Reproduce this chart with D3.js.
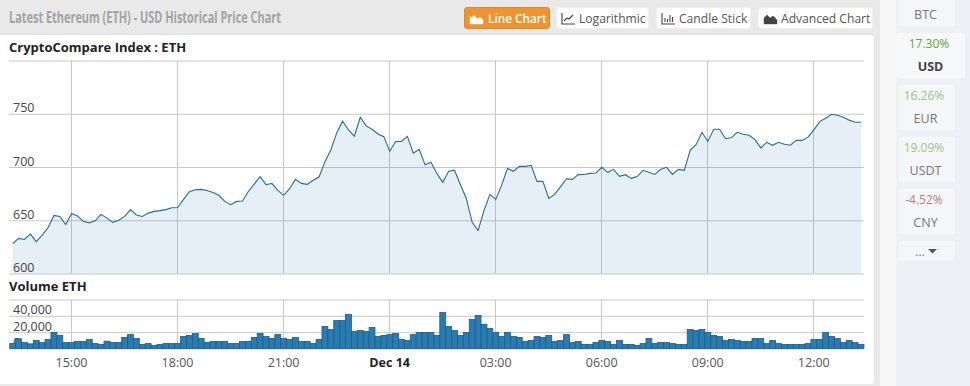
<!DOCTYPE html>
<html>
<head>
<meta charset="utf-8">
<title>ETH USD price chart</title>
<script src="https://cdn.jsdelivr.net/npm/d3@7"></script>
<style>
  html, body { margin: 0; padding: 0; background: #e9e9e9; overflow: hidden; }
  svg { display: block; }
  text { font-family: "Open Sans", sans-serif; }
  .axis .domain { display: none; }
  .axis text { font-size: 12.5px; fill: #555; }
  .axis line { stroke: #c8c8c8; }
</style>
</head>
<body>
<div id="chart"></div>
<script>
// Values, one point every 10 minutes from Dec 13 13:20
const startTime = new Date(2017, 11, 13, 13, 20);
const stepMinutes = 10;

const priceValues = [
  628, 633, 632, 637, 630, 636, 643, 654.5, 653.6, 646,
  656.4, 654, 649, 647.6, 649.5, 655.5, 652, 648, 650, 653.6,
  660, 655, 653.6, 656.7, 658.3, 659, 660, 661.8, 662, 669.6,
  676.8, 678.7, 679, 678, 676, 673.4, 667.7, 664.6, 667.7, 668,
  677, 684, 691, 683.4, 684.6, 678, 673.4, 679.6, 688.4, 684.6,
  683.7, 687.5, 690.6, 705, 716, 732, 743, 734.8, 729, 746.7,
  738.6, 735.4, 731, 728.5, 714.7, 724, 724, 728.8, 712.9, 716.6,
  702, 704.4, 694, 685.6, 696, 697, 683.4, 670.5, 648, 640.4,
  659, 674.3, 669.6, 683, 698.7, 696, 700.6, 700.6, 701.6, 686.5,
  686.5, 670.5, 674.3, 681.5, 689, 688.4, 692.8, 693, 694, 694.4,
  699.7, 695, 697.8, 691.2, 692.8, 689.3, 691, 696.9, 695, 693,
  697.8, 699.7, 693, 697.8, 696.9, 715.7, 721, 732.6, 724, 735.4,
  735.4, 726.6, 727.6, 732.6, 730.7, 729.8, 725.7, 718, 723.2, 720.4,
  723.2, 721.3, 720.4, 725, 725, 728, 734.8, 742.6, 745.8, 749.5,
  748.6, 746.7, 744, 742, 742
];

const volumeValues = [
  6000, 12000, 7300, 5700, 9800, 7300, 11000, 19600, 16000, 7300,
  7300, 8600, 8600, 11000, 6000, 5000, 9000, 7300, 7300, 13500,
  17000, 12200, 5000, 6000, 3700, 5000, 6000, 6000, 6000, 14700,
  16000, 18400, 12200, 7300, 8600, 8600, 8600, 6000, 6000, 8600,
  8600, 13500, 18400, 14700, 12200, 17000, 12200, 11000, 13500, 8600,
  8600, 6000, 11000, 27000, 23300, 34300, 34300, 41600, 20800, 22000,
  20800, 25700, 14700, 16000, 17000, 18400, 11000, 9800, 17000, 19600,
  19600, 19600, 16000, 44000, 27000, 22000, 16000, 19600, 35500, 40400,
  29400, 24500, 19600, 14700, 19600, 14700, 13500, 8600, 9800, 14700,
  13500, 16000, 8600, 9800, 17000, 7300, 8600, 5000, 5000, 7300,
  9800, 8600, 5000, 9800, 5000, 5000, 3700, 6000, 12200, 6000,
  7300, 7300, 6000, 5000, 5000, 23300, 22000, 23300, 19600, 16000,
  14700, 9800, 11000, 9800, 8600, 8600, 12200, 12200, 6000, 9800,
  6000, 5000, 5000, 5000, 5000, 6000, 11000, 11000, 19600, 14700,
  12200, 7300, 9800, 7300, 5000
];

const priceTicks = [600, 650, 700, 750, 800];
const volumeTicks = [0, 20000, 40000, 60000];
const timeTicks = [
  new Date(2017, 11, 13, 15), new Date(2017, 11, 13, 18), new Date(2017, 11, 13, 21),
  new Date(2017, 11, 14, 0), new Date(2017, 11, 14, 3), new Date(2017, 11, 14, 6),
  new Date(2017, 11, 14, 9), new Date(2017, 11, 14, 12)
];

const chartTitle = 'Latest Ethereum (ETH) - USD Historical Price Chart';
const buttonLabels = ['Line Chart', 'Logarithmic', 'Candle Stick', 'Advanced Chart'];
const currencyCodes = ['BTC', 'USD', 'EUR', 'USDT', 'CNY'];
const currencyChanges = [null, '17.30%', '16.26%', '19.09%', '-4.52%'];

const width = 970;
const height = 386;
const plot = { left: 9, right: 864 };
const priceBox = { top: 60.5, bottom: 273.5 };
const volumeBox = { top: 299.5, bottom: 348.5 };

const times = priceValues.map((d, i) => new Date(+startTime + i * stepMinutes * 60000));

const xscale = d3.scaleTime().domain(d3.extent(times)).range([12.7, 861]);
const yscale = d3.scaleLinear().domain([600, 800]).range([priceBox.bottom, priceBox.top]);
const vscale = d3.scaleLinear().domain([0, 60000]).range([volumeBox.bottom, volumeBox.top]);
const barWidth = xscale(times[1]) - xscale(times[0]);

const svg = d3.select('#chart').append('svg')
  .attr('width', width)
  .attr('height', height);

// Page background pieces: white chart panel and the currency sidebar
svg.append('rect').attr('x', -4).attr('y', 35).attr('width', 878).attr('height', 349)
  .attr('rx', 3).attr('fill', '#fff');
svg.append('rect').attr('x', 0).attr('y', 34).attr('width', 874).attr('height', 1).attr('fill', '#dedede');
svg.append('rect').attr('x', 880).attr('y', 0).attr('width', 90).attr('height', height).attr('fill', '#f7f7f7');
svg.append('rect').attr('x', 896).attr('y', 0).attr('width', 74).attr('height', height).attr('fill', '#eef0f5');

// The original heading is a condensed bold face, so squeeze Open Sans to its width
svg.append('text')
  .attr('x', 9).attr('y', 23)
  .attr('font-size', 16)
  .attr('font-weight', 700)
  .attr('textLength', 272)
  .attr('lengthAdjust', 'spacingAndGlyphs')
  .attr('fill', '#a3a3a3')
  .text(chartTitle);

// Toolbar buttons, the icons are just small paths
const buttonX = [464, 556, 656, 758];
const buttonW = [86, 93, 95, 115];
const icons = [
  'M0 12V4l2 2 2-3 3 4 3-2 3 3v4z',
  'M0 1V12H13M2 9l3-3 2 1 4-4',
  'M0 1V12H13M3 10V6M5.5 10V7M8 10V3M10.5 10V5',
  'M0 12V6l3-3 3 3 3-2 4 4v4z'
];
buttonLabels.forEach((label, i) => {
  const active = i === 0;
  const g = svg.append('g').attr('transform', `translate(${buttonX[i]},7)`);
  g.append('rect')
    .attr('x', 0.5).attr('y', 0.5)
    .attr('width', buttonW[i] - 1).attr('height', 21)
    .attr('rx', 2.5)
    .attr('fill', active ? '#f0932f' : '#fff')
    .attr('stroke', active ? '#e08a2c' : '#efefef');
  g.append('path')
    .attr('transform', 'translate(6,5)')
    .attr('d', icons[i])
    .attr('fill', (i === 1 || i === 2) ? 'none' : (active ? '#fff' : '#444'))
    .attr('stroke', active ? '#fff' : '#444')
    .attr('stroke-width', (i === 1 || i === 2) ? 1.1 : 0.4);
  g.append('text')
    .attr('x', active ? 24 : 23).attr('y', 15.5)
    .attr('font-size', active ? 11.8 : 12.1)
    .attr('font-weight', active ? 600 : 400)
    .attr('fill', active ? '#fff' : '#555')
    .text(label);
});

// Currency cards on the right
const cardY = [-6, 33, 85, 137, 189];
const cardH = [32, 45, 45, 45, 45];
currencyCodes.forEach((code, i) => {
  const active = code === 'USD';
  svg.append('rect')
    .attr('x', active ? 896 : 899).attr('y', cardY[i])
    .attr('width', active ? 69 : 56).attr('height', cardH[i])
    .attr('rx', 3)
    .attr('fill', active ? '#f7f8f9' : '#f5f6f8');
  const change = currencyChanges[i];
  if (change) {
    svg.append('text')
      .attr('x', active ? 929 : 924).attr('y', cardY[i] + 15)
      .attr('text-anchor', 'middle')
      .attr('font-size', 12)
      .attr('fill', change[0] === '-' ? '#c27c7c' : (active ? '#5fa83a' : '#9cc48a'))
      .text(change);
  }
  svg.append('text')
    .attr('x', active ? 930.5 : 925.5).attr('y', i === 0 ? 19 : cardY[i] + 38)
    .attr('text-anchor', 'middle')
    .attr('font-size', 12.5)
    .attr('font-weight', active ? 700 : 400)
    .attr('fill', active ? '#444' : '#777')
    .text(code);
});
svg.append('rect').attr('x', 899).attr('y', 241).attr('width', 56).attr('height', 20).attr('rx', 3).attr('fill', '#f5f6f8');
svg.append('text').attr('x', 920).attr('y', 256).attr('text-anchor', 'middle')
  .attr('font-size', 12).attr('fill', '#777').text('...');
svg.append('path').attr('d', 'M928 249h9l-4.5 4.5z').attr('fill', '#555');

// Panel headings
svg.append('text').attr('x', 9).attr('y', 52)
  .attr('font-size', 13).attr('font-weight', 700).attr('fill', '#222')
  .text('CryptoCompare Index : ETH');
svg.append('text').attr('x', 9).attr('y', 291)
  .attr('font-size', 13).attr('font-weight', 700).attr('fill', '#222')
  .text('Volume ETH');

// Vertical grid lines for both panels
[priceBox, volumeBox].forEach(box => {
  svg.selectAll(null)
    .data(timeTicks)
    .enter()
    .append('line')
    .attr('x1', d => Math.floor(xscale(d)) + 0.5)
    .attr('x2', d => Math.floor(xscale(d)) + 0.5)
    .attr('y1', box.top)
    .attr('y2', box.bottom)
    .attr('stroke', '#c8c8c8');
});

// Horizontal grid lines
svg.append('g').attr('class', 'axis')
  .attr('transform', `translate(${plot.left},0)`)
  .call(d3.axisRight(yscale).tickValues(priceTicks).tickSize(plot.right - plot.left).tickFormat(() => ''));
svg.append('g').attr('class', 'axis')
  .attr('transform', `translate(${plot.left},0)`)
  .call(d3.axisRight(vscale).tickValues(volumeTicks).tickSize(plot.right - plot.left).tickFormat(() => ''));

// Price area and line
const points = times.map((t, i) => ({ t, price: priceValues[i], volume: volumeValues[i] }));

const area = d3.area().x(d => xscale(d.t)).y0(priceBox.bottom).y1(d => yscale(d.price));
const line = d3.line().x(d => xscale(d.t)).y(d => yscale(d.price));

svg.append('path').datum(points)
  .attr('d', area)
  .attr('fill', '#2f74b5')
  .attr('fill-opacity', 0.12);
svg.append('path').datum(points)
  .attr('d', line)
  .attr('fill', 'none')
  .attr('stroke', '#1f6f9f')
  .attr('stroke-width', 1.1);

// Y labels sit just above their grid line at the left edge
svg.selectAll('.price-label')
  .data(priceTicks.slice(0, 4))
  .enter()
  .append('text')
  .attr('class', 'price-label')
  .attr('x', 13)
  .attr('y', d => yscale(d) - 1.5)
  .attr('font-size', 12.5)
  .attr('fill', '#444')
  .text(d => d);

svg.selectAll('.volume-label')
  .data(volumeTicks.slice(0, 3))
  .enter()
  .append('text')
  .attr('class', 'volume-label')
  .attr('x', 13)
  .attr('y', d => vscale(d) - 1.5)
  .attr('font-size', 12.5)
  .attr('fill', '#444')
  .text(d => d3.format(',')(d));

// Volume bars go over the labels, the 0 is half hidden in the original too
svg.selectAll('.bar')
  .data(points)
  .enter()
  .append('rect')
  .attr('class', 'bar')
  .attr('x', d => xscale(d.t) - barWidth / 2)
  .attr('y', d => vscale(d.volume))
  .attr('width', barWidth)
  .attr('height', d => volumeBox.bottom - vscale(d.volume))
  .attr('fill', '#2b7bb0')
  .attr('stroke', '#14608f')
  .attr('stroke-width', 0.8);

// Time axis under the volume bars
const xaxis = d3.axisBottom(xscale)
  .tickValues(timeTicks)
  .tickSize(0)
  .tickPadding(10)
  .tickFormat(d => d.getHours() === 0 ? 'Dec 14' : d3.timeFormat('%H:%M')(d));

const axisG = svg.append('g').attr('class', 'axis')
  .attr('transform', `translate(-0.6,${volumeBox.bottom})`)
  .call(xaxis);
axisG.selectAll('text')
  .attr('font-weight', d => d.getHours() === 0 ? 700 : 400)
  .style('fill', d => d.getHours() === 0 ? '#222' : '#555');
</script>
</body>
</html>
